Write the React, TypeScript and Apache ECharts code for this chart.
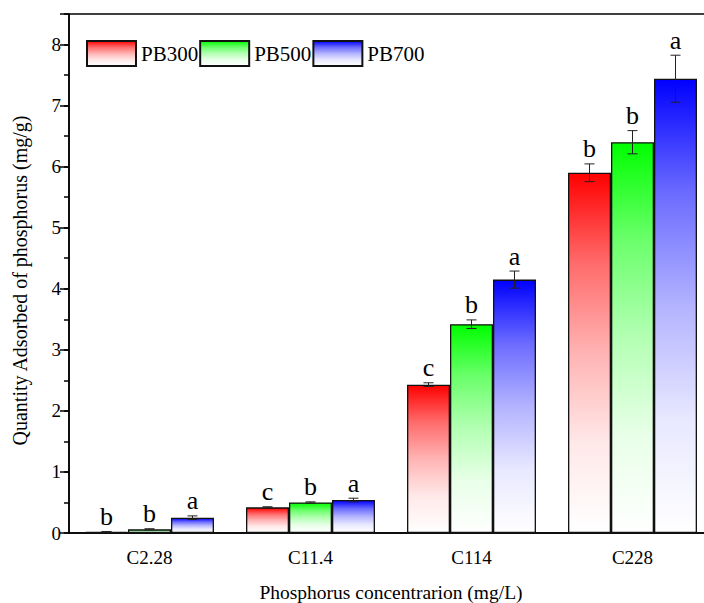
import React, { useEffect, useRef } from "react";
import * as echarts from "echarts";

const categories = ["C2.28", "C11.4", "C114", "C228"];
const seriesNames = ["PB300", "PB500", "PB700"];
const pb300 = [0.02, 0.42, 2.43, 5.9];
const pb500 = [0.06, 0.5, 3.42, 6.4];
const pb700 = [0.25, 0.54, 4.15, 7.44];
const err300 = [0.005, 0.01, 0.03, 0.145];
const err500 = [0.01, 0.01, 0.07, 0.19];
const err700 = [0.03, 0.03, 0.14, 0.385];
const let300 = ["b", "c", "c", "b"];
const let500 = ["b", "b", "b", "b"];
const let700 = ["a", "a", "a", "a"];
const yTicks = [0, 1, 2, 3, 4, 5, 6, 7, 8];

const FONT = "Liberation Serif";
const colors = [
  [255, 0, 0],
  [0, 255, 0],
  [0, 0, 255],
];
const BAR_RATIO = 0.267;

const values = [pb300, pb500, pb700];
const errs = [err300, err500, err700];
const letters = [let300, let500, let700];

function mix(c: number[], t: number) {
  const ch = c.map((v) => Math.round(255 * (1 - t) + v * t));
  return `rgb(${ch[0]},${ch[1]},${ch[2]})`;
}

function grad(c: number[]) {
  return new echarts.graphic.LinearGradient(0, 0, 0, 1, [
    { offset: 0, color: mix(c, 1) },
    { offset: 0.25, color: mix(c, 0.58) },
    { offset: 0.5, color: mix(c, 0.3) },
    { offset: 0.75, color: mix(c, 0.09) },
    { offset: 1, color: mix(c, 0) },
  ]);
}

export default function App() {
  const ref = useRef<HTMLDivElement>(null);
  useEffect(() => {
    if (!ref.current) return;
    const chart = echarts.init(ref.current, undefined, { renderer: "svg" });
    const barSeries = seriesNames.map((name, k) => ({
      name,
      type: "bar",
      data: values[k],
      barWidth: BAR_RATIO * 100 + "%",
      barGap: "0%",
      itemStyle: { color: grad(colors[k]), borderColor: "#111", borderWidth: 1.3 },
      xAxisIndex: 0,
      yAxisIndex: 0,
    }));
    const errSeries = seriesNames.map((name, k) => ({
      name: name + "_err",
      type: "custom",
      xAxisIndex: 0,
      yAxisIndex: 0,
      z: 5,
      data: categories.map((_, i) => [i, values[k][i], errs[k][i]]),
      encode: { x: 0, y: 1 },
      renderItem: (params: any, api: any) => {
        const i = api.value(0);
        const v = api.value(1);
        const e = api.value(2);
        const band = api.size([1, 0])[0];
        const bw = band * BAR_RATIO;
        const c = api.coord([i, v]);
        const x = c[0] + (k - 1) * bw;
        const top = api.coord([i, v + e])[1];
        const bot = api.coord([i, v - e])[1];
        const cap = 5;
        const ls = { stroke: "#222", lineWidth: 1 };
        return {
          type: "group",
          children: [
            { type: "line", shape: { x1: x, y1: top, x2: x, y2: bot }, style: ls },
            { type: "line", shape: { x1: x - cap, y1: top, x2: x + cap, y2: top }, style: ls },
            { type: "line", shape: { x1: x - cap, y1: bot, x2: x + cap, y2: bot }, style: ls },
            {
              type: "text",
              style: {
                text: letters[k][i],
                x,
                y: top - 2,
                align: "center",
                verticalAlign: "bottom",
                fontSize: 26,
                fontFamily: FONT,
                fill: "#000",
              },
            },
          ],
        };
      },
    }));
    chart.setOption({
      animation: false,
      backgroundColor: "#fff",
      grid: {
        left: 69,
        top: 14,
        right: -9,
        bottom: 70,
        outerBoundsMode: "none",
        containLabel: false,
        show: true,
        borderColor: "#000",
        borderWidth: 1.5,
      },
      legend: {
        data: seriesNames,
        left: 81,
        top: 35,
        itemWidth: 49,
        itemHeight: 25,
        itemGap: 1,
        icon: "rect",
        textStyle: { fontSize: 21, fontFamily: FONT, color: "#000" },
      },
      xAxis: [
        {
          type: "category",
          data: categories,
          name: "Phosphorus concentrarion (mg/L)",
          nameLocation: "middle",
          nameGap: 49,
          nameTextStyle: { fontSize: 19.5, fontFamily: FONT, color: "#000" },
          axisLine: { lineStyle: { color: "#000", width: 1.5 } },
          axisTick: { alignWithLabel: true, length: 9, lineStyle: { color: "#000", width: 1.5 } },
          axisLabel: { fontSize: 19, fontFamily: FONT, color: "#000", margin: 15 },
        },
        {
          type: "category",
          data: categories,
          position: "bottom",
          axisLine: { show: false },
          axisTick: { length: 5, lineStyle: { color: "#000", width: 1.5 } },
          axisLabel: { show: false },
        },
      ],
      yAxis: [
        {
          type: "value",
          min: 0,
          max: 8.5,
          interval: 1,
          name: "Quantity Adsorbed of phosphorus (mg/g)",
          nameLocation: "middle",
          nameGap: 39,
          nameTextStyle: {
            fontSize: 20,
            fontFamily: FONT,
            color: "#000",
            padding: [0, 14, 0, 0],
          },
          axisLine: { show: true, lineStyle: { color: "#000", width: 1.5 } },
          axisTick: { show: true, length: 9, lineStyle: { color: "#000", width: 1.5 } },
          axisLabel: {
            fontSize: 19,
            fontFamily: FONT,
            color: "#000",
            margin: 8,
            formatter: (v: number) => (yTicks.indexOf(v) >= 0 ? String(v) : ""),
          },
          splitLine: { show: false },
        },
        {
          type: "value",
          min: 0,
          max: 8.5,
          interval: 0.5,
          position: "left",
          axisLine: { show: false },
          axisTick: { show: true, length: 5, lineStyle: { color: "#000", width: 1.5 } },
          axisLabel: { show: false },
          splitLine: { show: false },
        },
      ],
      series: [...barSeries, ...errSeries],
    });
    return () => chart.dispose();
  }, []);
  return (
    <div
      ref={ref}
      style={{ position: "fixed", left: 0, top: 0, width: 704, height: 603 }}
    />
  );
}
